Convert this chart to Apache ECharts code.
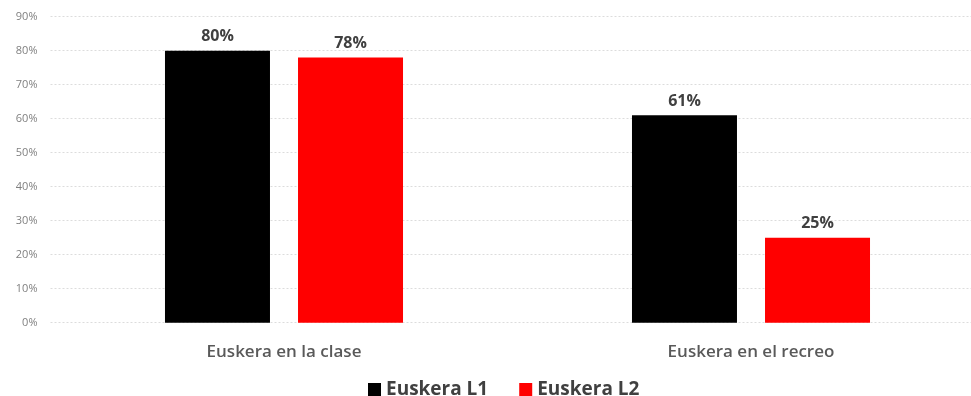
<!DOCTYPE html>
<html>
<head>
<meta charset="utf-8">
<script src="https://cdn.jsdelivr.net/npm/echarts@6/dist/echarts.min.js"></script>
<style>
  html, body { margin: 0; padding: 0; background: #ffffff; }
  #chart { width: 971px; height: 396px; }
</style>
</head>
<body>
<div id="chart"></div>
<script>
// Uso del euskera según lengua materna
const categories = ['Euskera en la clase', 'Euskera en el recreo'];
const seriesNames = ['Euskera L1', 'Euskera L2'];
const valuesL1 = [80, 61];
const valuesL2 = [78, 25];
const colors = ['#000000', '#ff0000'];

const FONT = '"Open Sans", "Noto Sans", sans-serif';

const chart = echarts.init(document.getElementById('chart'), null, { renderer: 'canvas' });

const barLabel = {
  show: true,
  position: 'top',
  distance: 6,
  formatter: '{c}%',
  fontFamily: FONT,
  fontSize: 16,
  fontWeight: 'bold',
  color: '#404040'
};

chart.setOption({
  animation: false,
  backgroundColor: '#ffffff',
  color: colors,
  grid: {
    left: 50.5,
    right: -13.5,
    top: 16.7,
    bottom: 73.3,
    containLabel: false,
    outerBoundsMode: 'none'
  },
  legend: {
    data: seriesNames,
    top: 380,
    left: 368,
    padding: 0,
    itemWidth: 13,
    itemHeight: 13,
    itemGap: 31,
    icon: 'rect',
    textStyle: { fontFamily: FONT, fontSize: 19, fontWeight: 'bold', color: '#404040' }
  },
  xAxis: {
    type: 'category',
    data: categories,
    axisLine: { show: false },
    axisTick: { show: false },
    axisLabel: {
      margin: 21,
      fontFamily: FONT,
      fontSize: 17,
      fontWeight: 600,
      color: '#595959'
    }
  },
  yAxis: {
    type: 'value',
    min: 0,
    max: 90,
    interval: 10,
    axisLine: { show: false },
    axisTick: { show: false },
    axisLabel: {
      formatter: '{value}%',
      margin: 13,
      fontFamily: FONT,
      fontSize: 11,
      color: '#808080'
    },
    splitLine: {
      lineStyle: { color: '#dcdcdc', width: 1, type: [2, 2] }
    }
  },
  series: [
    {
      name: seriesNames[0],
      type: 'bar',
      data: valuesL1,
      barWidth: 105,
      barGap: '26.7%',
      label: barLabel
    },
    {
      name: seriesNames[1],
      type: 'bar',
      data: valuesL2,
      barWidth: 105,
      barGap: '26.7%',
      label: barLabel
    }
  ]
});
</script>
</body>
</html>
